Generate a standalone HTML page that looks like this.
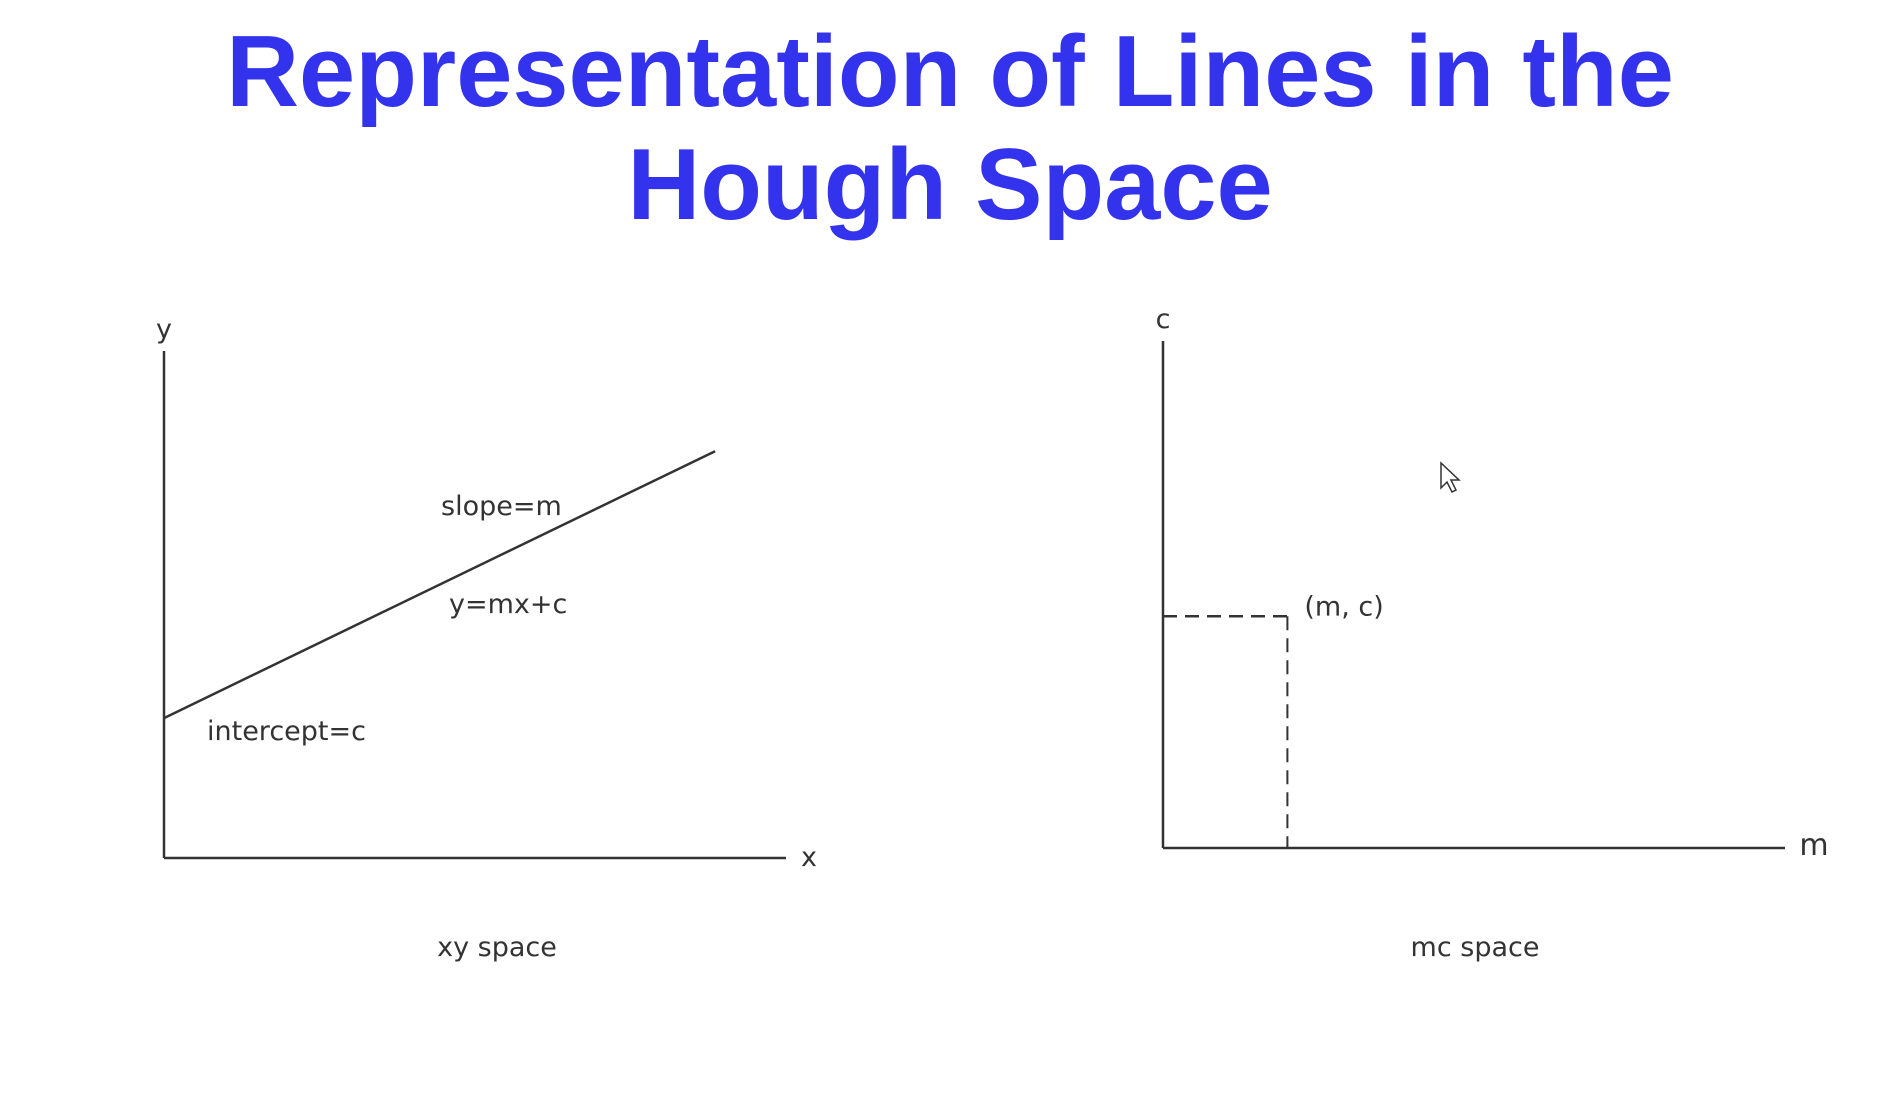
<!DOCTYPE html>
<html><head><meta charset="utf-8"><style>
html,body{margin:0;padding:0;background:#fff;width:1900px;height:1100px;overflow:hidden}
.t{position:absolute;left:0;width:1900px;text-align:center;font-family:"Liberation Sans",Arial,sans-serif;font-weight:bold;color:#3333ee;font-size:101px;line-height:113px}
</style></head><body>
<div class="t" style="top:16px">Representation of Lines in the<br>Hough Space</div>
<svg width="1900" height="1100" style="position:absolute;left:0;top:0">
<g id="g" font-family="DejaVu Sans, Liberation Sans, sans-serif" fill="#333" font-size="27"></g>
</svg>
<script>
// xy-space line: intercept and slope (in data units)
const lineIntercept = [0.276];
const lineSlope = [0.594];
const lineXRange = [0, 0.886];
// mc-space point
const pointM = [0.2];
const pointC = [0.457];
const NS='http://www.w3.org/2000/svg';
const g=document.getElementById('g');
function mk(t,a,txt){const e=document.createElementNS(NS,t);for(const k in a)e.setAttribute(k,a[k]);if(txt)e.textContent=txt;g.appendChild(e);return e;}
const L={x0:164,y0:858,w:622,h:507};
const lx=v=>L.x0+v*L.w, ly=v=>L.y0-v*L.h;
const R={x0:1163,y0:848,w:622,h:507};
const rx=v=>R.x0+v*R.w, ry=v=>R.y0-v*R.h;
let e;
e=mk('line',{x1:L.x0,y1:L.y0,x2:L.x0,y2:ly(1),stroke:'#333','stroke-width':2.5});

e=mk('line',{x1:L.x0,y1:L.y0,x2:lx(1),y2:L.y0,stroke:'#333','stroke-width':2.5});

e=mk('line',{x1:lx(lineXRange[0]),y1:ly(lineIntercept[0]+lineSlope[0]*lineXRange[0]),x2:lx(lineXRange[1]),y2:ly(lineIntercept[0]+lineSlope[0]*lineXRange[1]),stroke:'#333','stroke-width':2.5});

e=mk('text',{x:164,y:338,'text-anchor':'middle'},'y');
e=mk('text',{x:809,y:866,'text-anchor':'middle'},'x');
e=mk('text',{x:441,y:515},'slope=m');
e=mk('text',{x:449,y:613},'y=mx+c');
e=mk('text',{x:207,y:740},'intercept=c');
e=mk('text',{x:497,y:956,'text-anchor':'middle'},'xy space');
e=mk('line',{x1:R.x0,y1:R.y0,x2:R.x0,y2:ry(1),stroke:'#333','stroke-width':2.5});

e=mk('line',{x1:R.x0,y1:R.y0,x2:rx(1),y2:R.y0,stroke:'#333','stroke-width':2.5});

e=mk('line',{x1:R.x0,y1:ry(pointC[0]),x2:rx(pointM[0]),y2:ry(pointC[0]),stroke:'#333','stroke-width':2.5,'stroke-dasharray':'14 8'});

e=mk('line',{x1:rx(pointM[0]),y1:ry(pointC[0]),x2:rx(pointM[0]),y2:R.y0,stroke:'#333','stroke-width':2,'stroke-dasharray':'14 8'});

e=mk('text',{x:rx(pointM[0])+17,y:ry(pointC[0])-1},'(m, c)');
e=mk('text',{x:1163,y:328,'text-anchor':'middle'},'c');
e=mk('text',{x:1814,y:855,'text-anchor':'middle','font-size':30},'m');
e=mk('text',{x:1475,y:956,'text-anchor':'middle'},'mc space');
e=mk('path',{d:'M1441 463 L1441 488 L1447 482 L1452 492 L1456 490 L1451 480 L1459 480 Z',fill:'#fff',stroke:'#333','stroke-width':1.5});

</script>
</body></html>
